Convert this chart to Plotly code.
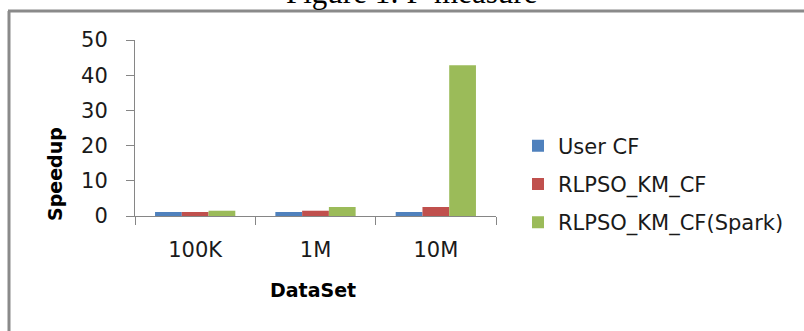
import plotly.graph_objects as go

# Data
datasets = ["100K", "1M", "10M"]
user_cf = [1.14, 1.14, 1.14]
rlpso_km_cf = [1.14, 1.5, 2.56]
rlpso_km_cf_spark = [1.5, 2.56, 42.8]

series_names = ["User CF", "RLPSO_KM_CF", "RLPSO_KM_CF(Spark)"]
series_values = [user_cf, rlpso_km_cf, rlpso_km_cf_spark]
series_colors = ["#4F81BD", "#C0504D", "#9BBB59"]

W, H = 804, 331
L, R, T, B = 135, 308, 40, 115
PW, PH = W - L - R, H - T - B


def px_x(x):
    return (x - L) / PW


def px_y(y):
    return (H - B - y) / PH


FONT = "DejaVu Sans"
TXT = "#1a1a1a"

fig = go.Figure()
for i, (name, vals, col) in enumerate(zip(series_names, series_values, series_colors)):
    fig.add_trace(go.Bar(
        x=datasets, y=vals, name=name, marker_color=col,
        marker_line_width=0, legendgroup=f"g{i}",
    ))

fig.update_layout(
    width=W, height=H,
    margin=dict(l=L, r=R, t=T, b=B),
    paper_bgcolor="white", plot_bgcolor="white",
    barmode="group", bargap=0.333, bargroupgap=0,
    showlegend=True,
    legend=dict(
        x=px_x(518), y=px_y(184), xanchor="left", yanchor="middle",
        font=dict(family=FONT, size=21, color=TXT),
        tracegroupgap=8, bgcolor="rgba(0,0,0,0)",
    ),
    xaxis=dict(
        showline=True, linecolor="#868686", linewidth=1,
        ticks="outside", ticklen=8, tickcolor="#868686", tickson="boundaries",
        tickfont=dict(family=FONT, size=21, color=TXT),
        ticklabelstandoff=15, showgrid=False, zeroline=False,
    ),
    yaxis=dict(
        range=[0, 50], tickvals=[0, 10, 20, 30, 40, 50],
        showline=True, linecolor="#868686", linewidth=1,
        ticks="outside", ticklen=8, tickcolor="#868686",
        tickfont=dict(family=FONT, size=21, color=TXT),
        ticklabelstandoff=14, showgrid=False, zeroline=False,
    ),
    annotations=[
        dict(text="<b>Speedup</b>", xref="paper", yref="paper",
             x=px_x(55), y=px_y(174), xanchor="center", yanchor="middle",
             textangle=-90, showarrow=False,
             font=dict(family=FONT, size=19, color="#000")),
        dict(text="<b>DataSet</b>", xref="paper", yref="paper",
             x=px_x(313), y=px_y(290), xanchor="center", yanchor="middle",
             showarrow=False, font=dict(family=FONT, size=19, color="#000")),
        dict(text="Figure 1: F-measure", xref="paper", yref="paper",
             x=px_x(411), y=px_y(12), xanchor="center", yanchor="bottom",
             showarrow=False,
             font=dict(family="Liberation Serif", size=31, color="#000")),
    ],
    shapes=[
        dict(type="line", xref="paper", yref="paper",
             x0=px_x(8), x1=px_x(810), y0=px_y(11), y1=px_y(11),
             line=dict(color="#8a8a8a", width=3)),
        dict(type="line", xref="paper", yref="paper",
             x0=px_x(9), x1=px_x(9), y0=px_y(11), y1=px_y(340),
             line=dict(color="#8a8a8a", width=3)),
    ],
)

fig.write_html("out.html")
